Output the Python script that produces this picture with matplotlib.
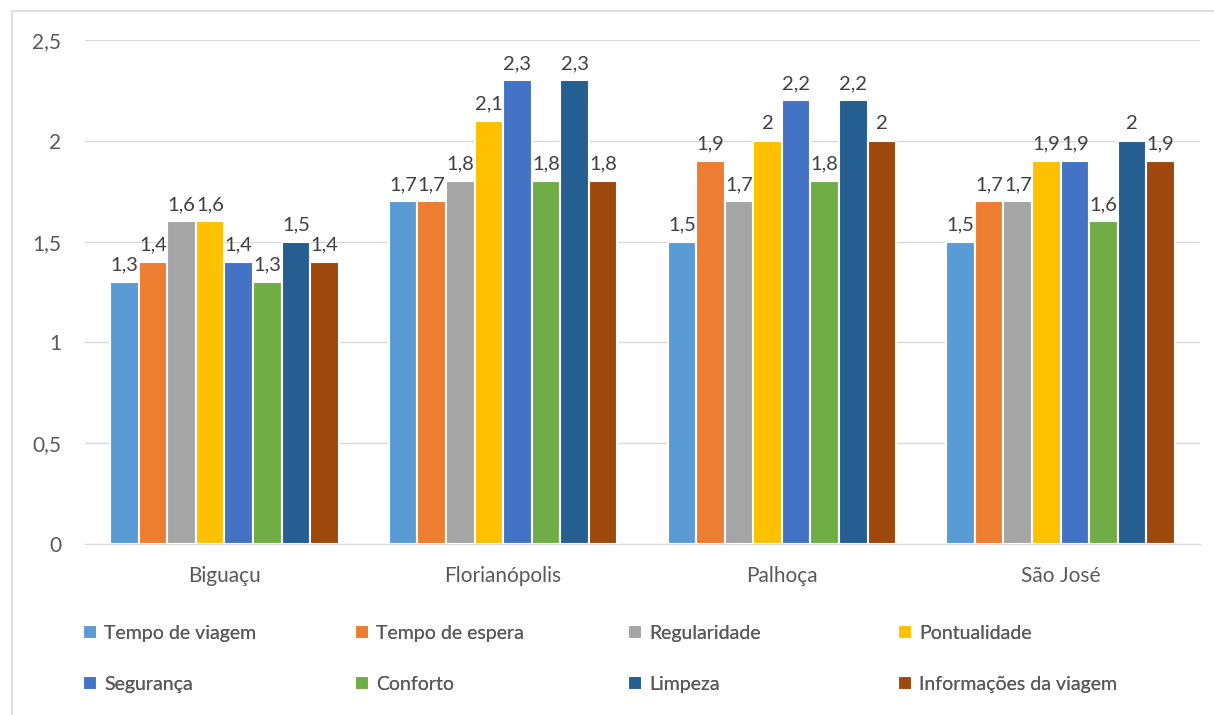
import matplotlib.pyplot as plt
import numpy as np
from matplotlib.patches import Rectangle

plt.rcParams['font.family'] = ['Lato', 'DejaVu Sans']

cities = ['Biguaçu', 'Florianópolis', 'Palhoça', 'São José']
series = ['Tempo de viagem', 'Tempo de espera', 'Regularidade', 'Pontualidade',
          'Segurança', 'Conforto', 'Limpeza', 'Informações da viagem']
colors = ['#5B9BD5', '#ED7D31', '#A5A5A5', '#FFC000',
          '#4472C4', '#70AD47', '#255E91', '#9E480E']

tempo_viagem = [1.3, 1.7, 1.5, 1.5]
tempo_espera = [1.4, 1.7, 1.9, 1.7]
regularidade = [1.6, 1.8, 1.7, 1.7]
pontualidade = [1.6, 2.1, 2.0, 1.9]
seguranca = [1.4, 2.3, 2.2, 1.9]
conforto = [1.3, 1.8, 1.8, 1.6]
limpeza = [1.5, 2.3, 2.2, 2.0]
informacoes = [1.4, 1.8, 2.0, 1.9]
values = [tempo_viagem, tempo_espera, regularidade, pontualidade,
          seguranca, conforto, limpeza, informacoes]

fig = plt.figure(figsize=(12.14, 7.15), dpi=100)
ax = fig.add_axes([85 / 1214, 1 - 544 / 715, 1115 / 1214, 504 / 715])

# light chart border like the excel frame
fig.patches.append(Rectangle((12 / 1214, -0.05), 1.2, 1 - 11 / 715 + 0.05,
                             transform=fig.transFigure, fill=False,
                             edgecolor='#D9D9D9', linewidth=1.2))

x = np.arange(len(cities))
slot = 0.1025
handles = []
for i, (name, vals, c) in enumerate(zip(series, values, colors)):
    pos = x + (i - 3.5) * slot
    bars = ax.bar(pos, vals, width=slot, color=c, edgecolor='white',
                  linewidth=1.5, label=name, zorder=3)
    handles.append(bars)
    for b, v in zip(bars, vals):
        lab = ('%g' % v).replace('.', ',')
        ax.annotate(lab, (b.get_x() + b.get_width() / 2, v),
                    xytext=(0, 6), textcoords='offset points',
                    ha='center', va='bottom', fontsize=14.5, color='#404040')

ax.set_xlim(-0.5, 3.5)
ax.set_ylim(0, 2.5)
ax.set_yticks([0, 0.5, 1, 1.5, 2, 2.5])
ax.set_yticklabels(['0', '0,5', '1', '1,5', '2', '2,5'])
ax.set_xticks(x)
ax.set_xticklabels(cities)
ax.tick_params(length=0, labelsize=15, colors='#595959')
ax.tick_params(axis='y', pad=17)
ax.tick_params(axis='x', pad=16)
ax.grid(axis='y', color='#D9D9D9', linewidth=1, zorder=0)
for s in ['top', 'right', 'left']:
    ax.spines[s].set_visible(False)
ax.spines['bottom'].set_color('#D9D9D9')

# legend: 4 columns, each its own small legend, filled row by row
col_x = [85, 357, 630, 900]
for j, cx in enumerate(col_x):
    idx = [j, j + 4]
    leg = fig.legend([handles[k] for k in idx], [series[k] for k in idx],
                     loc='center left', bbox_to_anchor=((cx - 2) / 1214, 1 - 659 / 715),
                     frameon=False, fontsize=14, borderpad=0, borderaxespad=0,
                     handlelength=0.7, handleheight=0.7, handletextpad=0.4,
                     labelspacing=1.75, labelcolor='#595959')
    fig.add_artist(leg)

fig.savefig('out.png', dpi=100)
